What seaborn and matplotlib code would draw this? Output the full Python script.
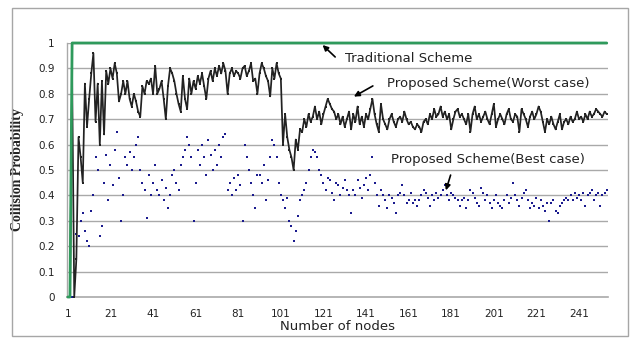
import numpy as np
import pandas as pd
import matplotlib
matplotlib.use("Agg")
import matplotlib.pyplot as plt
from matplotlib.patches import Rectangle
from matplotlib.ticker import FixedLocator, MultipleLocator, FuncFormatter
import seaborn as sns

# ---------------- data ----------------
worst_case = [
    0, 0, 0.87, 0, 0.15, 0.63, 0.55, 0.45, 0.84, 0.67, 0.78, 0.88, 0.96, 0.69, 0.84, 0.60, 0.85, 0.64, 0.89, 0.84,
    0.90, 0.86, 0.92, 0.88, 0.77, 0.80, 0.85, 0.80, 0.85, 0.78, 0.75, 0.80, 0.77, 0.73, 0.71, 0.83, 0.80, 0.85, 0.84, 0.86,
    0.80, 0.91, 0.80, 0.82, 0.85, 0.78, 0.70, 0.83, 0.90, 0.88, 0.85, 0.80, 0.76, 0.73, 0.87, 0.78, 0.74, 0.86, 0.80, 0.85,
    0.82, 0.87, 0.84, 0.88, 0.83, 0.78, 0.86, 0.89, 0.85, 0.90, 0.87, 0.91, 0.88, 0.92, 0.89, 0.80, 0.88, 0.90, 0.87, 0.89,
    0.88, 0.86, 0.90, 0.91, 0.87, 0.89, 0.92, 0.85, 0.86, 0.80, 0.88, 0.92, 0.90, 0.87, 0.85, 0.79, 0.90, 0.86, 0.92, 0.88,
    0.86, 0.60, 0.72, 0.63, 0.58, 0.55, 0.50, 0.62, 0.58, 0.66, 0.65, 0.70, 0.67, 0.72, 0.69, 0.71, 0.75, 0.70, 0.73, 0.68,
    0.72, 0.75, 0.78, 0.76, 0.74, 0.73, 0.70, 0.72, 0.68, 0.71, 0.67, 0.70, 0.73, 0.66, 0.72, 0.69, 0.75, 0.68, 0.71, 0.67,
    0.72, 0.70, 0.74, 0.78, 0.72, 0.68, 0.65, 0.76, 0.70, 0.68, 0.66, 0.70, 0.72, 0.69, 0.67, 0.70, 0.71, 0.69, 0.73, 0.70,
    0.68, 0.69, 0.67, 0.66, 0.68, 0.67, 0.65, 0.69, 0.70, 0.68, 0.72, 0.70, 0.74, 0.71, 0.72, 0.75, 0.71, 0.73, 0.70, 0.72,
    0.66, 0.70, 0.73, 0.74, 0.71, 0.72, 0.70, 0.68, 0.72, 0.65, 0.72, 0.75, 0.70, 0.72, 0.69, 0.71, 0.73, 0.70, 0.68, 0.72,
    0.76, 0.67, 0.70, 0.72, 0.70, 0.68, 0.72, 0.74, 0.70, 0.69, 0.72, 0.71, 0.65, 0.74, 0.72, 0.70, 0.67, 0.71, 0.73, 0.70,
    0.72, 0.75, 0.73, 0.69, 0.65, 0.70, 0.68, 0.71, 0.68, 0.66, 0.69, 0.72, 0.66, 0.69, 0.70, 0.68, 0.71, 0.69, 0.70, 0.73,
    0.70, 0.71, 0.69, 0.72, 0.70, 0.73, 0.71, 0.72, 0.74, 0.73, 0.72, 0.71, 0.73, 0.72,
]

best_case = [
    0, 0, 0, 0, 0.25, 0.24, 0.30, 0.33, 0.26, 0.22, 0.20, 0.34, 0.40, 0.55, 0.50, 0.24, 0.28, 0.45, 0.56, 0.38,
    0.52, 0.44, 0.58, 0.65, 0.47, 0.30, 0.40, 0.55, 0.52, 0.57, 0.50, 0.55, 0.60, 0.63, 0.50, 0.45, 0.42, 0.31, 0.48, 0.40,
    0.45, 0.52, 0.42, 0.40, 0.46, 0.38, 0.43, 0.35, 0.40, 0.48, 0.50, 0.45, 0.42, 0.52, 0.55, 0.58, 0.63, 0.60, 0.55, 0.30,
    0.45, 0.58, 0.52, 0.60, 0.55, 0.48, 0.62, 0.56, 0.50, 0.58, 0.52, 0.60, 0.55, 0.63, 0.64, 0.42, 0.45, 0.40, 0.47, 0.42,
    0.48, 0.44, 0.30, 0.60, 0.55, 0.50, 0.45, 0.40, 0.35, 0.48, 0.48, 0.45, 0.52, 0.38, 0.46, 0.55, 0.62, 0.60, 0.55, 0.45,
    0.40, 0.38, 0.35, 0.39, 0.30, 0.28, 0.22, 0.26, 0.32, 0.38, 0.40, 0.42, 0.45, 0.50, 0.55, 0.58, 0.57, 0.55, 0.50, 0.48,
    0.45, 0.42, 0.47, 0.46, 0.41, 0.38, 0.45, 0.44, 0.40, 0.43, 0.46, 0.42, 0.40, 0.33, 0.42, 0.40, 0.46, 0.43, 0.39, 0.44,
    0.47, 0.42, 0.48, 0.55, 0.45, 0.40, 0.36, 0.42, 0.40, 0.38, 0.35, 0.40, 0.39, 0.37, 0.33, 0.40, 0.41, 0.44, 0.40, 0.37,
    0.38, 0.41, 0.37, 0.38, 0.36, 0.38, 0.40, 0.42, 0.41, 0.39, 0.36, 0.40, 0.38, 0.41, 0.39, 0.40, 0.42, 0.44, 0.40, 0.38,
    0.41, 0.40, 0.39, 0.38, 0.36, 0.38, 0.39, 0.35, 0.38, 0.42, 0.41, 0.39, 0.37, 0.36, 0.43, 0.41, 0.38, 0.40, 0.37, 0.35,
    0.38, 0.40, 0.37, 0.36, 0.35, 0.38, 0.40, 0.37, 0.39, 0.45, 0.40, 0.38, 0.36, 0.39, 0.41, 0.42, 0.38, 0.35, 0.37, 0.36,
    0.39, 0.35, 0.38, 0.36, 0.34, 0.37, 0.30, 0.37, 0.38, 0.34, 0.33, 0.36, 0.37, 0.38, 0.39, 0.38, 0.40, 0.38, 0.41, 0.39,
    0.40, 0.38, 0.41, 0.36, 0.40, 0.41, 0.42, 0.38, 0.40, 0.41, 0.36, 0.40, 0.41, 0.42,
]

n_points = min(len(worst_case), len(best_case))
worst_case = worst_case[:n_points]
best_case = best_case[:n_points]
nodes = list(range(1, n_points + 1))
traditional = [0, 0] + [1.0] * (n_points - 2)

x_tick_labels = [1, 21, 41, 61, 81, 101, 121, 141, 161, 181, 201, 221, 241]
y_ticks = [0, 0.1, 0.2, 0.3, 0.4, 0.5, 0.6, 0.7, 0.8, 0.9, 1.0]

df = pd.DataFrame({"node": nodes, "traditional": traditional,
                   "worst": worst_case, "best": best_case})

# ---------------- figure ----------------
sns.set_style("white")
plt.rcParams["font.family"] = ["DejaVu Sans"]

W, H = 635, 343
fig = plt.figure(figsize=(W / 100, H / 100), dpi=100)
fig.patch.set_facecolor("white")

# outer chart border
fig.add_artist(Rectangle((12 / W, 1 - 336 / H), 616 / W, 328 / H,
                         transform=fig.transFigure, fill=False,
                         edgecolor="#a6a6a6", linewidth=1.0))

ax = fig.add_axes([67 / W, 1 - 297 / H, (608 - 67) / W, (297 - 43) / H])
ax.set_facecolor("white")

grid_c = "#a9a9a9"
for yv in y_ticks[1:]:
    ax.axhline(yv, color=grid_c, linewidth=1.0, zorder=0)

# series
sns.lineplot(data=df, x="node", y="best", ax=ax, linestyle="none",
             marker="s", markersize=1.9, markeredgewidth=0,
             color="#1a1a8e", zorder=3)
sns.lineplot(data=df, x="node", y="worst", ax=ax, color="#222222",
             linewidth=1.25, marker="s", markersize=1.8,
             markeredgewidth=0, zorder=4)
sns.lineplot(data=df, x="node", y="traditional", ax=ax, color="#2f9a5c",
             linewidth=2.0, zorder=5, clip_on=False)

ax.set_xlim(0.6, n_points + 0.6)
ax.set_ylim(0, 1)

ax.xaxis.set_major_locator(FixedLocator(x_tick_labels))
ax.xaxis.set_minor_locator(MultipleLocator(1))
ax.set_xticks(x_tick_labels)
ax.set_xticklabels([str(v) for v in x_tick_labels])
ax.set_yticks(y_ticks)
ax.yaxis.set_major_formatter(FuncFormatter(lambda v, p: "%g" % round(v, 1)))

ax.tick_params(axis="x", which="major", length=3, width=0.8, color=grid_c,
               direction="inout", labelsize=7.5, pad=7, labelcolor="#222222")
ax.tick_params(axis="x", which="minor", length=3, width=0.6, color=grid_c,
               direction="inout")
ax.tick_params(axis="y", which="major", length=0, labelsize=7.5, pad=9,
               labelcolor="#222222")

for side in ["top", "right"]:
    ax.spines[side].set_visible(False)
ax.spines["left"].set_color(grid_c)
ax.spines["left"].set_linewidth(1.0)
ax.spines["bottom"].set_color(grid_c)
ax.spines["bottom"].set_linewidth(1.2)

ax.set_xlabel("Number of nodes", fontsize=9.5, labelpad=1, color="#222222")
ax.set_ylabel("Collision Probability", fontsize=10, fontweight="bold",
              family="Liberation Serif", labelpad=10, color="#222222")

arrow = dict(arrowstyle="-|>", color="black", lw=1.2, mutation_scale=8,
             shrinkA=0, shrinkB=0)
ax.annotate("", xy=(120.6, 0.992), xytext=(126.5, 0.945), arrowprops=arrow,
            annotation_clip=False)
ax.text(131, 0.94, "Traditional Scheme", fontsize=9.5, va="center",
        ha="left", color="#222222")
ax.annotate("", xy=(135.3, 0.789), xytext=(144.2, 0.831), arrowprops=arrow)
ax.text(151, 0.84, "Proposed Scheme(Worst case)", fontsize=9.5,
        va="center", ha="left", color="#222222")
ax.annotate("", xy=(178.5, 0.42), xytext=(180.7, 0.48), arrowprops=arrow)
ax.text(152.5, 0.54, "Proposed Scheme(Best case)", fontsize=9.5,
        va="center", ha="left", color="#222222")

fig.savefig("out.png", dpi=100, facecolor="white")
